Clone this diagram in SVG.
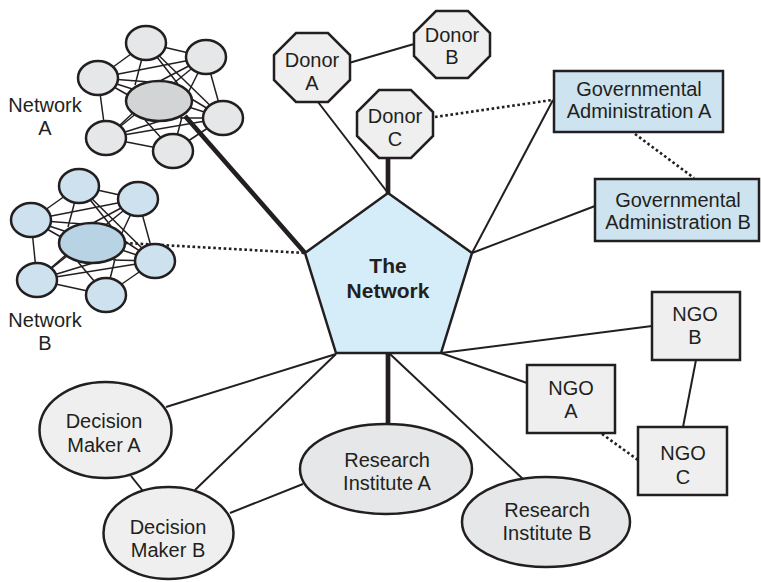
<svg xmlns="http://www.w3.org/2000/svg" width="761" height="582" viewBox="0 0 761 582">
<style>
text{font-family:"Liberation Sans",Arial,sans-serif;font-size:20px;fill:#231f20;text-anchor:middle}
.b{font-weight:bold;font-size:21px}
.ln{stroke:#231f20;stroke-width:2;fill:none}
.th{stroke:#231f20;stroke-width:4.7;fill:none}
.dt{stroke:#231f20;stroke-width:2.6;fill:none;stroke-dasharray:2.6 2.6}
.nd{stroke:#231f20;stroke-width:2.5}
.thin{stroke:#231f20;stroke-width:1.5;fill:none}
.ga{fill:#e6e7e8}
.gc{fill:#d3d4d5}
.ba{fill:#cde2ee}
.bc{fill:#b8d3e3}
.lg{fill:#efefef}
.gv{fill:#cde3ef}
</style>
<g id="connectors">
<line class="th" x1="185" y1="116" x2="305" y2="253"/>
<line class="dt" x1="125" y1="243" x2="305" y2="253"/>
<line class="ln" x1="318" y1="72" x2="414" y2="44"/>
<line class="ln" x1="318" y1="102" x2="388" y2="193"/>
<line class="th" x1="388" y1="158" x2="388" y2="193"/>
<line class="dt" x1="435" y1="117" x2="552" y2="100"/>
<line class="ln" x1="472" y1="253" x2="553" y2="100"/>
<line class="dt" x1="635" y1="134" x2="694" y2="178"/>
<line class="ln" x1="472" y1="253" x2="595" y2="206"/>
<line class="ln" x1="441" y1="353" x2="652" y2="326"/>
<line class="ln" x1="441" y1="353" x2="527" y2="383"/>
<line class="ln" x1="696" y1="360" x2="683" y2="427"/>
<line class="dt" x1="602" y1="434" x2="638" y2="460"/>
<line class="th" x1="388" y1="353" x2="388" y2="425"/>
<line class="ln" x1="390" y1="354" x2="523" y2="479"/>
<line class="ln" x1="336" y1="354" x2="166" y2="407"/>
<line class="ln" x1="336" y1="354" x2="195" y2="490"/>
<line class="ln" x1="131" y1="476" x2="143" y2="491"/>
<line class="ln" x1="230" y1="513" x2="303" y2="484"/>
</g>
<g id="networkA">
<g class="thin">
<line x1="146" y1="43" x2="206" y2="57"/>
<line x1="146" y1="43" x2="98" y2="78"/>
<line x1="98" y1="78" x2="106" y2="138"/>
<line x1="106" y1="138" x2="173" y2="151"/>
<line x1="173" y1="151" x2="223" y2="118"/>
<line x1="223" y1="118" x2="206" y2="57"/>
<line x1="98" y1="78" x2="206" y2="57"/>
<line x1="98" y1="78" x2="223" y2="118"/>
<line x1="146" y1="43" x2="223" y2="118"/>
<line x1="106" y1="138" x2="223" y2="118"/>
<line x1="206" y1="57" x2="106" y2="138"/>
<path d="M146 43L135 85M146 43L178 84M206 57L160 81M206 57L188 93M98 78L128 95M98 78L150 82M223 118L190 98M223 118L180 118M106 138L134 112M106 138L160 121M173 151L145 120M173 151L182 117"/>
</g>
<ellipse class="nd ga" cx="146" cy="43" rx="20" ry="17"/>
<ellipse class="nd ga" cx="206" cy="57" rx="20" ry="17"/>
<ellipse class="nd ga" cx="98" cy="78" rx="20" ry="17"/>
<ellipse class="nd ga" cx="223" cy="118" rx="20" ry="17"/>
<ellipse class="nd ga" cx="106" cy="138" rx="20" ry="17"/>
<ellipse class="nd ga" cx="173" cy="151" rx="20" ry="17"/>
<ellipse class="nd gc" cx="159" cy="101" rx="33" ry="20"/>
<text x="45" y="112">Network</text>
<text x="45" y="135">A</text>
</g>
<g id="networkB">
<g class="thin">
<line x1="79" y1="186" x2="138" y2="199"/>
<line x1="79" y1="186" x2="31" y2="220"/>
<line x1="31" y1="220" x2="37" y2="280"/>
<line x1="37" y1="280" x2="106" y2="295"/>
<line x1="106" y1="295" x2="155" y2="261"/>
<line x1="155" y1="261" x2="138" y2="199"/>
<line x1="31" y1="220" x2="138" y2="199"/>
<line x1="31" y1="220" x2="155" y2="261"/>
<line x1="79" y1="186" x2="155" y2="261"/>
<line x1="37" y1="280" x2="155" y2="261"/>
<line x1="138" y1="199" x2="37" y2="280"/>
<path d="M79 186L68 227M79 186L111 226M138 199L93 223M138 199L121 235M31 220L61 237M31 220L83 224M155 261L123 240M155 261L113 260M37 280L67 254M37 280L93 263M106 295L78 262M106 295L115 259"/>
</g>
<ellipse class="nd ba" cx="79" cy="186" rx="20" ry="17"/>
<ellipse class="nd ba" cx="138" cy="199" rx="20" ry="17"/>
<ellipse class="nd ba" cx="31" cy="220" rx="20" ry="17"/>
<ellipse class="nd ba" cx="155" cy="261" rx="20" ry="17"/>
<ellipse class="nd ba" cx="37" cy="280" rx="20" ry="17"/>
<ellipse class="nd ba" cx="106" cy="295" rx="20" ry="17"/>
<ellipse class="nd bc" cx="92" cy="243" rx="33" ry="20"/>
<text x="45" y="327">Network</text>
<text x="45" y="350">B</text>
</g>
<g id="the-network">
<polygon class="nd" fill="#d4edf9" points="388,193 472,253 441,353 336,353 305,253"/>
<text class="b" x="388" y="273">The</text>
<text class="b" x="388" y="298">Network</text>
</g>
<g id="donorA">
<polygon class="nd lg" points="296,33 328,33 350,55 350,80 328,102 296,102 274,80 274,55"/>
<text x="312" y="67">Donor</text>
<text x="312" y="90">A</text>
</g>
<g id="donorB">
<polygon class="nd lg" points="436,11 468,11 490,33 490,56 468,78 436,78 414,56 414,33"/>
<text x="452" y="42">Donor</text>
<text x="452" y="64">B</text>
</g>
<g id="donorC">
<polygon class="nd lg" points="379,90 411,90 433,112 433,136 411,158 379,158 357,136 357,112"/>
<text x="395" y="123">Donor</text>
<text x="395" y="146">C</text>
</g>
<g id="govA">
<rect class="nd gv" x="554" y="71" width="169" height="61"/>
<text x="639" y="96">Governmental</text>
<text x="639" y="118">Administration A</text>
</g>
<g id="govB">
<rect class="nd gv" x="595" y="179" width="164" height="62"/>
<text x="678" y="207">Governmental</text>
<text x="678" y="229">Administration B</text>
</g>
<g id="ngoB">
<rect class="nd lg" x="652" y="292" width="88" height="68"/>
<text x="695" y="321">NGO</text>
<text x="695" y="344">B</text>
</g>
<g id="ngoA">
<rect class="nd lg" x="527" y="365" width="88" height="68"/>
<text x="571" y="395">NGO</text>
<text x="571" y="418">A</text>
</g>
<g id="ngoC">
<rect class="nd lg" x="638" y="427" width="89" height="68"/>
<text x="683" y="460">NGO</text>
<text x="683" y="484">C</text>
</g>
<g id="dmA">
<ellipse class="nd lg" cx="105.5" cy="430" rx="66" ry="48"/>
<text x="104" y="428">Decision</text>
<text x="104" y="452">Maker A</text>
</g>
<g id="dmB">
<ellipse class="nd lg" cx="168.5" cy="533" rx="65" ry="46"/>
<text x="168" y="534">Decision</text>
<text x="168" y="557">Maker B</text>
</g>
<g id="riA">
<ellipse class="nd ga" cx="386" cy="469" rx="86" ry="45"/>
<text x="387" y="467">Research</text>
<text x="387" y="490">Institute A</text>
</g>
<g id="riB">
<ellipse class="nd ga" cx="546" cy="522" rx="84" ry="45"/>
<text x="547" y="517">Research</text>
<text x="547" y="540">Institute B</text>
</g>
</svg>
